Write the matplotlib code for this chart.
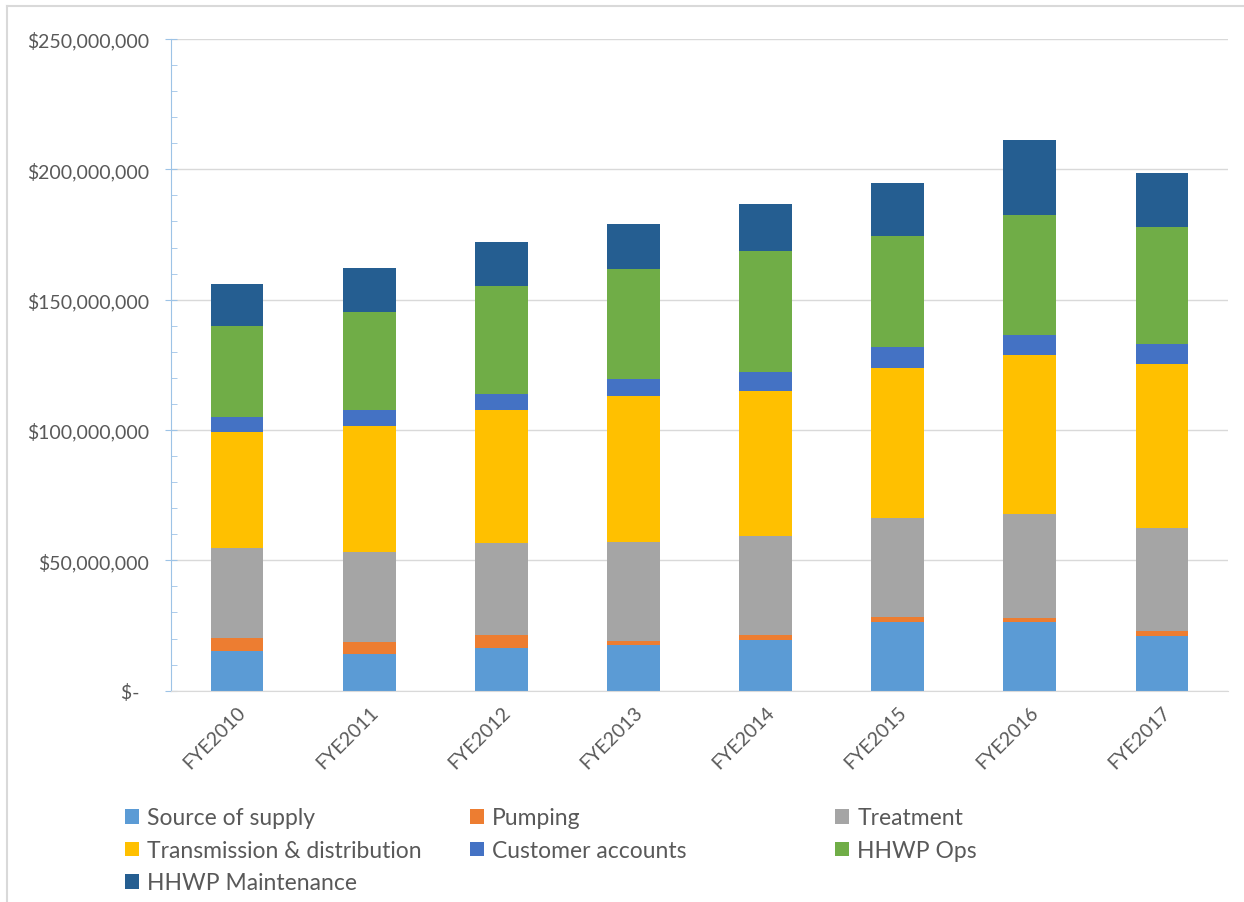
import matplotlib
matplotlib.use("Agg")
import matplotlib.pyplot as plt
from matplotlib.lines import Line2D
from matplotlib.ticker import MultipleLocator, FuncFormatter

years = ["FYE2010", "FYE2011", "FYE2012", "FYE2013",
         "FYE2014", "FYE2015", "FYE2016", "FYE2017"]

# values in $ millions
source_of_supply = [15.4, 14.2, 16.5, 17.7, 19.4, 26.3, 26.3, 20.8]
pumping = [4.8, 4.5, 5.0, 1.5, 1.9, 2.1, 1.6, 2.1]
treatment = [34.6, 34.4, 35.3, 38.0, 38.1, 37.7, 39.8, 39.5]
trans_dist = [44.3, 48.6, 51.0, 55.9, 55.4, 57.8, 60.9, 62.8]
customer_accounts = [6.0, 6.0, 6.1, 6.6, 7.6, 7.8, 7.8, 7.8]
hhwp_ops = [34.7, 37.7, 41.3, 42.2, 46.1, 42.7, 45.9, 44.7]
hhwp_maint = [16.1, 16.8, 16.8, 17.1, 18.3, 20.3, 28.8, 21.0]

series = [
    ("Source of supply", source_of_supply, "#5B9BD5"),
    ("Pumping", pumping, "#ED7D31"),
    ("Treatment", treatment, "#A5A5A5"),
    ("Transmission & distribution", trans_dist, "#FFC000"),
    ("Customer accounts", customer_accounts, "#4472C4"),
    ("HHWP Ops", hhwp_ops, "#70AD47"),
    ("HHWP Maintenance", hhwp_maint, "#255E91"),
]

plt.rcParams["font.family"] = ["Lato", "DejaVu Sans"]
text_color = "#595959"

fig = plt.figure(figsize=(12.44, 9.03), dpi=100)
ax = fig.add_axes([171 / 1244, 1 - 691.7 / 903, (1228 - 171) / 1244, (691.7 - 40) / 903])

x = range(len(years))
bottom = [0.0] * len(years)
handles = {}
for name, vals, color in series:
    dollars = [v * 1e6 for v in vals]
    bars = ax.bar(x, dollars, width=0.4, bottom=bottom, color=color,
                  linewidth=0, label=name)
    handles[name] = bars
    bottom = [b + d for b, d in zip(bottom, dollars)]

ax.set_xlim(-0.5, len(years) - 0.5)
ax.set_ylim(0, 250e6)
ax.yaxis.set_major_locator(MultipleLocator(50e6))
ax.yaxis.set_minor_locator(MultipleLocator(10e6))
ax.yaxis.set_major_formatter(FuncFormatter(
    lambda v, p: "$-  " if v == 0 else f"${v:,.0f}"))
ax.grid(axis="y", which="major", color="#D9D9D9", linewidth=1)
ax.set_axisbelow(True)

for s in ("top", "right"):
    ax.spines[s].set_visible(False)
ax.spines["left"].set_color("#9DC3E6")
ax.spines["bottom"].set_color("#D9D9D9")

ax.tick_params(axis="y", which="major", direction="inout", length=9,
               color="#9DC3E6", labelsize=14, labelcolor=text_color, pad=11)
ax.tick_params(axis="y", which="minor", direction="in", length=4,
               color="#9DC3E6")
ax.set_xticks(list(x))
ax.set_xticklabels(years, rotation=45, ha="right", rotation_mode="anchor",
                   fontsize=14, color=text_color)
ax.tick_params(axis="x", length=0, pad=9)

# legend laid out in fixed-width columns, row by row like the original
cols = [["Source of supply", "Transmission & distribution", "HHWP Maintenance"],
        ["Pumping", "Customer accounts"],
        ["Treatment", "HHWP Ops"]]
col_x = [114, 459, 824]
for names, cx in zip(cols, col_x):
    fig.legend([handles[n] for n in names], names,
               loc="upper left", bbox_to_anchor=(cx / 1244, 1 - 797 / 903),
               frameon=False, fontsize=16.5, handlelength=0.6,
               handleheight=0.6, handletextpad=0.35, labelspacing=0.5,
               borderpad=0, labelcolor=text_color)

# chart frame: only top and left edges show in the original crop
fig.add_artist(Line2D([7 / 1244, 1], [1 - 7 / 903, 1 - 7 / 903],
                      transform=fig.transFigure, color="#D9D9D9", linewidth=1.5))
fig.add_artist(Line2D([7 / 1244, 7 / 1244], [0, 1 - 7 / 903],
                      transform=fig.transFigure, color="#D9D9D9", linewidth=1.5))

fig.savefig("out.png", dpi=100)
